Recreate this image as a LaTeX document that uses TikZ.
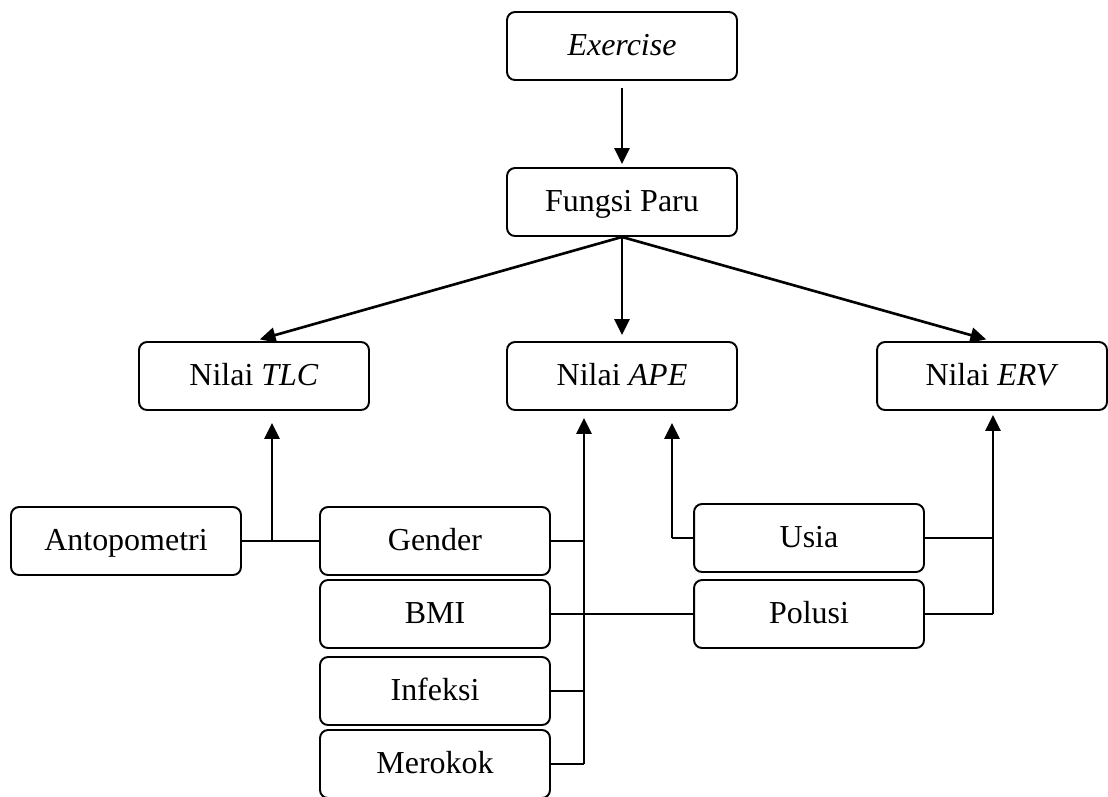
\documentclass[tikz,border=0pt]{standalone}
\usepackage{fontspec}
\setmainfont{Liberation Serif}
\usetikzlibrary{arrows.meta}
\begin{document}
\begin{tikzpicture}
[x=0.02cm, y=-0.02cm, font=\fontsize{18.2}{22}\selectfont, line join=round,
box/.style={draw, line width=1.1pt, rounded corners=0.16cm, minimum width=4.6cm, minimum height=1.36cm, inner sep=0pt, text height=0.5cm, text depth=0.12cm},
link/.style={line width=0.7pt},
arr/.style={->, line width=1.5pt},
>={Triangle[length=9pt,width=8.5pt]}]
\useasboundingbox (0,0) rectangle (1108,796);
\node[box] (ex) at (622,46) {\textit{Exercise}};
\node[box] (fp) at (622,202) {Fungsi Paru};
\foreach \n/\x/\t in {tlc/254/TLC, ape/622/APE, erv/992/ERV}
\node[box] (\n) at (\x,376) {Nilai \textit{\t}};
\node[box] (ant) at (126,541) {Antopometri};
\foreach \n/\y/\t in {gen/541/Gender, bmi/614/BMI, inf/691/Infeksi, mer/764/Merokok}
\node[box] (\n) at (435,\y) {\t};
\node[box] (usia) at (809,538) {Usia};
\node[box] (pol) at (809,614) {Polusi};
\draw[arr, shorten <=0.14cm, shorten >=0.06cm] (ex) -- (fp);
\foreach \n in {tlc, ape, erv}
\draw[arr, shorten >=0.12cm] (fp.south) -- (\n.north);
% ends under the Nilai boxes
\coordinate (t1) at (272,423);
\coordinate (t2) at (584,418);
\coordinate (t3) at (672,423);
\coordinate (t4) at (993,415);
\draw[link] (ant) -- (gen);
\draw[arr] (ant -| t1) -- (t1);
\foreach \n in {gen, bmi, inf, mer}
\draw[link] (\n.east) -- (\n -| t2);
\draw[arr] (mer -| t2) -- (t2);
\draw[link] (bmi) -- (pol);
\draw[link] (usia.west) -- (usia -| t3);
\draw[arr] (usia -| t3) -- (t3);
\draw[link] (usia.east) -- (usia -| t4) (pol.east) -- (pol -| t4);
\draw[arr] (pol -| t4) -- (t4);
\end{tikzpicture}
\end{document}
